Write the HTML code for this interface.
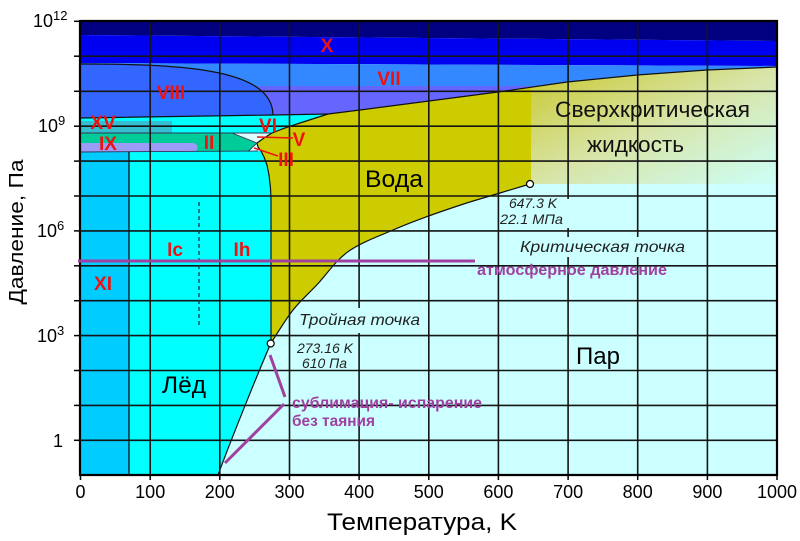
<!DOCTYPE html>
<html><head><meta charset="utf-8"><style>
html,body{margin:0;padding:0;background:#fff;}
svg{display:block;}
text{font-family:"Liberation Sans","DejaVu Sans",sans-serif;}
</style></head><body>
<svg width="800" height="541" viewBox="0 0 800 541" xmlns="http://www.w3.org/2000/svg">
<defs>
<linearGradient id="sc" x1="0" y1="0" x2="1" y2="1">
<stop offset="0" stop-color="#c8c82c"/>
<stop offset="0.5" stop-color="#d8e4a6"/>
<stop offset="1" stop-color="#ccfff8"/>
</linearGradient>
</defs>
<rect x="0" y="0" width="800" height="541" fill="#fff"/>
<!-- vapor background -->
<rect x="80" y="21" width="697" height="454" fill="#ccffff"/>
<!-- navy -->
<polygon points="80,21 777,21 777,41 80,35" fill="#000080"/>
<!-- X -->
<polygon points="80,35 777,41 777,66 80,63" fill="#0000f0"/>
<!-- VII -->
<polygon points="80,63 777,66 777,67 707,70 637,75 567,82 498,92 360,110 328,114 80,118" fill="#3388ff"/>
<!-- purple -->
<polygon points="258,86 539,86 498,92 360,110 328,114 273,115" fill="#6666ff"/>
<!-- VIII -->
<path d="M80,63 C190,64 272,70 273,115 L80,118 Z" fill="#3366ff"/>
<!-- ice cyan (VI, Ih, Ic) -->
<path d="M80,118 L273,115 L328,114 L300,123 L285,128 L272,133 L264,138 L257,143 L258,147 L261,151 L264,157 L267,165 L269,175 L270.5,188 L271,200 L271,343.5 C250,392 228,448 218,475 L80,475 Z" fill="#00ffff"/>
<!-- XV -->
<rect x="80" y="121" width="92" height="12" fill="#33bfcf"/>
<!-- II -->
<polygon points="80,133 232,133 256,143 248,151.5 80,152" fill="#00cc99"/>
<!-- IX -->
<path d="M80,143 H193 a4.5,4.5 0 0 1 0,9 H80 Z" fill="#9c9cf8"/>
<!-- V -->
<polygon points="232,133 271,133 257,143" fill="#ddffff"/>
<!-- III -->
<polygon points="257,143 248,151.5 260,151 258,147" fill="#ddffff"/>
<!-- XI -->
<rect x="80" y="152" width="49" height="323" fill="#00ccff"/>
<!-- liquid -->
<path d="M328,114 L360,110 L498,92 L531,87.5 L531,184 L530,184 C525,185.5 510.6,189.8 500,193 C489.5,196.2 478.9,199.1 466.7,203 C454.5,207 439,212.2 426.7,216.7 C414.4,221.2 406.1,224.2 393,230 C379.9,235.8 360.7,242.5 348,251.7 C335.3,260.9 325.9,275.3 316.7,285 C307.5,294.7 300.7,300.3 293,310 C285.3,319.8 274.4,337.9 270.7,343.5 L271,200 L270.5,188 L269,175 L267,165 L264,157 L261,151 L258,147 L257,143 L264,138 L272,133 L285,128 L300,123 Z" fill="#cccc00"/>
<!-- supercritical -->
<polygon points="531,87.5 567,82 637,75 707,70 777,67 777,184 531,184" fill="url(#sc)"/>

<!-- boundary lines -->
<g fill="none" stroke="#111" stroke-width="1.2">
<path d="M80,64 C190,64 272,70 273,115"/>
<polyline points="80,118 273,115 328,114"/>
<polyline points="328,114 360,110 498,92 567,82 637,75 707,70 777,67"/>
<polyline points="328,114 300,123 285,128 272,133 264,138 257,143 258,147 261,151 264,157 267,165 269,175 270.5,188 271,200 271,343.5"/>
<path d="M270.7,343.5 C274.4,337.9 285.3,319.8 293,310 C300.7,300.3 307.5,294.7 316.7,285 C325.9,275.3 335.3,260.9 348,251.7 C360.7,242.5 379.9,235.8 393,230 C406.1,224.2 414.4,221.2 426.7,216.7 C439,212.2 454.5,207 466.7,203 C478.9,199.1 489.5,196.2 500,193 C510.6,189.8 525,185.5 530,184"/>
<path d="M218,475 C228,448 250,392 270.7,343.5"/>
<polyline points="80,133 271,133" stroke-width="0.9" stroke="#335"/>
<polyline points="80,152 258,151" stroke-width="0.9" stroke="#335"/>
<polyline points="232,133 257,143 248,151.5" stroke-width="0.9" stroke="#335"/>
<line x1="129" y1="152" x2="129" y2="475" stroke-width="1.3"/>
</g>

<!-- grid -->
<g stroke="#151515" stroke-width="1.6">
<line x1="80" y1="56.2" x2="777" y2="56.2"/>
<line x1="80" y1="91.3" x2="777" y2="91.3"/>
<line x1="80" y1="126.2" x2="777" y2="126.2"/>
<line x1="80" y1="161.1" x2="777" y2="161.1"/>
<line x1="80" y1="196" x2="777" y2="196"/>
<line x1="80" y1="230.9" x2="777" y2="230.9"/>
<line x1="80" y1="265.8" x2="777" y2="265.8"/>
<line x1="80" y1="300.7" x2="777" y2="300.7"/>
<line x1="80" y1="335.6" x2="777" y2="335.6"/>
<line x1="80" y1="370.5" x2="777" y2="370.5"/>
<line x1="80" y1="405.4" x2="777" y2="405.4"/>
<line x1="80" y1="440.3" x2="777" y2="440.3"/>
<line x1="150.2" y1="21" x2="150.2" y2="475"/>
<line x1="219.8" y1="21" x2="219.8" y2="475"/>
<line x1="289.5" y1="21" x2="289.5" y2="475"/>
<line x1="359.1" y1="21" x2="359.1" y2="475"/>
<line x1="428.8" y1="21" x2="428.8" y2="475"/>
<line x1="498.4" y1="21" x2="498.4" y2="475"/>
<line x1="568.1" y1="21" x2="568.1" y2="475"/>
<line x1="637.7" y1="21" x2="637.7" y2="475"/>
<line x1="707.4" y1="21" x2="707.4" y2="475"/>
</g>

<!-- label backgrounds in vapor -->
<rect x="297" y="308" width="126" height="25" fill="#ccffff"/>
<rect x="505" y="199" width="64" height="29" fill="#ccffff"/>
<rect x="517" y="237" width="172" height="20" fill="#ccffff"/>

<!-- dashed Ic/Ih -->
<line x1="199" y1="202" x2="199" y2="327" stroke="#1a3a3a" stroke-width="1.3" stroke-dasharray="4,3"/>

<!-- frame and ticks -->
<g stroke="#000" stroke-width="2.2" fill="none">
<polyline points="80,21 777,21 777,475"/>
<line x1="80" y1="20" x2="80" y2="476"/>
<line x1="79" y1="475" x2="778" y2="475"/>
</g>
<g stroke="#000" stroke-width="1.5">
<line x1="74" y1="21.3" x2="80" y2="21.3"/>
<line x1="74" y1="56.2" x2="80" y2="56.2"/>
<line x1="74" y1="91.3" x2="80" y2="91.3"/>
<line x1="74" y1="126.2" x2="80" y2="126.2"/>
<line x1="74" y1="161.1" x2="80" y2="161.1"/>
<line x1="74" y1="196" x2="80" y2="196"/>
<line x1="74" y1="230.9" x2="80" y2="230.9"/>
<line x1="74" y1="265.8" x2="80" y2="265.8"/>
<line x1="74" y1="300.7" x2="80" y2="300.7"/>
<line x1="74" y1="335.6" x2="80" y2="335.6"/>
<line x1="74" y1="370.5" x2="80" y2="370.5"/>
<line x1="74" y1="405.4" x2="80" y2="405.4"/>
<line x1="74" y1="440.3" x2="80" y2="440.3"/>
<line x1="80.5" y1="475" x2="80.5" y2="480"/>
<line x1="150.2" y1="475" x2="150.2" y2="480"/>
<line x1="219.8" y1="475" x2="219.8" y2="480"/>
<line x1="289.5" y1="475" x2="289.5" y2="480"/>
<line x1="359.1" y1="475" x2="359.1" y2="480"/>
<line x1="428.8" y1="475" x2="428.8" y2="480"/>
<line x1="498.4" y1="475" x2="498.4" y2="480"/>
<line x1="568.1" y1="475" x2="568.1" y2="480"/>
<line x1="637.7" y1="475" x2="637.7" y2="480"/>
<line x1="707.4" y1="475" x2="707.4" y2="480"/>
<line x1="777" y1="475" x2="777" y2="480"/>
</g>

<!-- atmospheric pressure line -->
<line x1="78" y1="261" x2="475" y2="261" stroke="#a040a0" stroke-width="3"/>
<!-- sublimation pointer lines -->
<line x1="270" y1="355" x2="285" y2="397" stroke="#a040a0" stroke-width="3"/>
<line x1="284" y1="404" x2="225" y2="463" stroke="#a040a0" stroke-width="3"/>
<!-- red pointer lines -->
<line x1="257" y1="137" x2="293" y2="138" stroke="#ee1111" stroke-width="1.5"/>
<line x1="254" y1="148" x2="278" y2="156" stroke="#ee1111" stroke-width="1.5"/>

<!-- points -->
<circle cx="270.7" cy="343.5" r="3.5" fill="#fff" stroke="#000" stroke-width="1.2"/>
<circle cx="530" cy="184" r="3.5" fill="#fff" stroke="#000" stroke-width="1.2"/>

<!-- red phase labels -->
<g fill="#f01010" font-weight="bold" font-size="19" text-anchor="middle">
<text x="327" y="52">X</text>
<text x="389" y="85">VII</text>
<text x="171" y="99">VIII</text>
<text x="103" y="129">XV</text>
<text x="108" y="150">IX</text>
<text x="209" y="149">II</text>
<text x="268" y="132">VI</text>
<text x="299" y="146">V</text>
<text x="286" y="166">III</text>
<text x="175" y="256">Ic</text>
<text x="242" y="256">Ih</text>
<text x="103" y="290">XI</text>
</g>

<!-- region names -->
<g fill="#000" font-size="24">
<text x="365" y="187" textLength="58" lengthAdjust="spacingAndGlyphs">Вода</text>
<text x="162" y="393" textLength="44" lengthAdjust="spacingAndGlyphs">Лёд</text>
<text x="576" y="364">Пар</text>
</g>
<g fill="#111" font-size="22">
<text x="555" y="117" textLength="195" lengthAdjust="spacingAndGlyphs">Сверхкритическая</text>
<text x="587" y="152" textLength="97" lengthAdjust="spacingAndGlyphs">жидкость</text>
</g>

<!-- italic annotations -->
<g fill="#222" font-style="italic">
<text x="299" y="325" font-size="16" textLength="121" lengthAdjust="spacingAndGlyphs">Тройная точка</text>
<text x="297" y="353" font-size="13.5" textLength="56" lengthAdjust="spacingAndGlyphs">273.16 K</text>
<text x="302" y="368" font-size="13.5" textLength="45" lengthAdjust="spacingAndGlyphs">610 Па</text>
<text x="509" y="208" font-size="14" textLength="48" lengthAdjust="spacingAndGlyphs">647.3 K</text>
<text x="500" y="224" font-size="14" textLength="63" lengthAdjust="spacingAndGlyphs">22.1 МПа</text>
<text x="520" y="252" font-size="16" textLength="165" lengthAdjust="spacingAndGlyphs">Критическая точка</text>
</g>

<!-- purple annotations -->
<g fill="#a040a0" font-weight="bold" font-size="16">
<text x="477" y="275" textLength="190" lengthAdjust="spacingAndGlyphs">атмосферное давление</text>
<text x="292" y="408" textLength="190" lengthAdjust="spacingAndGlyphs">сублимация- испарение</text>
<text x="292" y="426" textLength="83" lengthAdjust="spacingAndGlyphs">без таяния</text>
</g>

<!-- x tick labels -->
<g fill="#000" font-size="18" text-anchor="middle">
<text x="80.5" y="498">0</text>
<text x="150.2" y="498">100</text>
<text x="219.8" y="498">200</text>
<text x="289.5" y="498">300</text>
<text x="359.1" y="498">400</text>
<text x="428.8" y="498">500</text>
<text x="498.4" y="498">600</text>
<text x="568.1" y="498">700</text>
<text x="637.7" y="498">800</text>
<text x="707.4" y="498">900</text>
<text x="777" y="498">1000</text>
</g>

<!-- y tick labels -->
<g fill="#000" font-size="18">
<text x="33" y="27">10<tspan font-size="13" dy="-7">12</tspan></text>
<text x="38" y="132">10<tspan font-size="13" dy="-7">9</tspan></text>
<text x="37" y="237">10<tspan font-size="13" dy="-7">6</tspan></text>
<text x="37" y="342">10<tspan font-size="13" dy="-7">3</tspan></text>
<text x="53" y="447">1</text>
</g>

<!-- axis titles -->
<text x="422" y="530" font-size="24" text-anchor="middle" fill="#000" textLength="190" lengthAdjust="spacingAndGlyphs">Температура, K</text>
<text transform="translate(23,232) rotate(-90)" font-size="20" text-anchor="middle" fill="#000" textLength="145" lengthAdjust="spacingAndGlyphs">Давление, Па</text>
</svg>
</body></html>
